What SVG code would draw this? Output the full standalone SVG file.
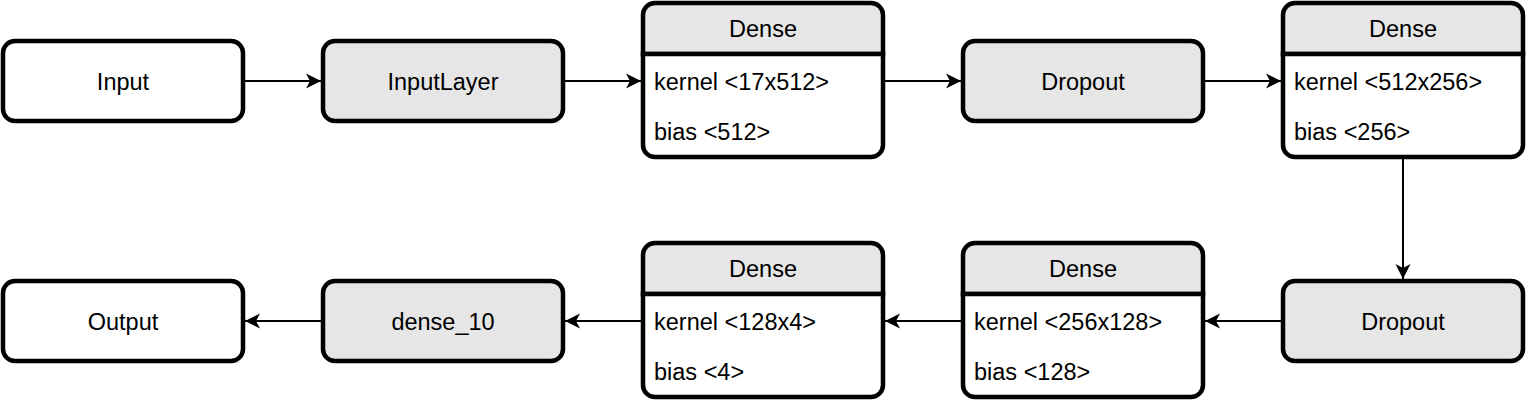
<svg xmlns="http://www.w3.org/2000/svg" width="1526" height="406" viewBox="0 0 1526 406">
<defs>
<style>
.box{stroke:#000;stroke-width:4.5;}
.w{fill:#fff;}
.g{fill:#e6e6e6;}
text{font-family:"Liberation Sans",Arial,Helvetica,sans-serif;font-size:23.5px;fill:#000;}
.c{text-anchor:middle;}
.conn{stroke:#000;stroke-width:2;fill:none;marker-end:url(#arr);}
</style>
<marker id="arr" markerUnits="userSpaceOnUse" markerWidth="18" markerHeight="18" viewBox="0 0 18 18" refX="16" refY="9" orient="auto">
<path d="M1,1.5 L16,9 L1,16.5 L5,9 Z" fill="#000"/>
</marker>
</defs>
<rect width="1526" height="406" fill="#fff"/>
<g id="connectors">
<line class="conn" x1="243" y1="81" x2="321" y2="81"/>
<line class="conn" x1="563" y1="81" x2="641" y2="81"/>
<line class="conn" x1="883" y1="81" x2="961" y2="81"/>
<line class="conn" x1="1203" y1="81" x2="1281" y2="81"/>
<line class="conn" x1="1403" y1="157" x2="1403" y2="279"/>
<line class="conn" x1="1283" y1="321" x2="1205" y2="321"/>
<line class="conn" x1="963" y1="321" x2="885" y2="321"/>
<line class="conn" x1="643" y1="321" x2="565" y2="321"/>
<line class="conn" x1="323" y1="321" x2="245" y2="321"/>
</g>
<g id="input">
<rect class="box w" x="3" y="41" width="240" height="80" rx="12"/>
<text class="c" x="123" y="89.5">Input</text>
</g>
<g id="inputlayer">
<rect class="box g" x="323" y="41" width="240" height="80" rx="12"/>
<text class="c" x="443" y="89.5">InputLayer</text>
</g>
<g id="dense1">
<path class="box g" d="M643,54 V15 A12,12 0 0 1 655,3 H871 A12,12 0 0 1 883,15 V54 Z"/>
<path class="box w" d="M643,54 H883 V145 A12,12 0 0 1 871,157 H655 A12,12 0 0 1 643,145 Z"/>
<text class="c" x="763" y="37">Dense</text>
<text x="654" y="90">kernel &lt;17x512&gt;</text>
<text x="654" y="140">bias &lt;512&gt;</text>
</g>
<g id="dropout1">
<rect class="box g" x="963" y="41" width="240" height="80" rx="12"/>
<text class="c" x="1083" y="89.5">Dropout</text>
</g>
<g id="dense2">
<path class="box g" d="M1283,54 V15 A12,12 0 0 1 1295,3 H1511 A12,12 0 0 1 1523,15 V54 Z"/>
<path class="box w" d="M1283,54 H1523 V145 A12,12 0 0 1 1511,157 H1295 A12,12 0 0 1 1283,145 Z"/>
<text class="c" x="1403" y="37">Dense</text>
<text x="1294" y="90">kernel &lt;512x256&gt;</text>
<text x="1294" y="140">bias &lt;256&gt;</text>
</g>
<g id="dropout2">
<rect class="box g" x="1283" y="281" width="240" height="80" rx="12"/>
<text class="c" x="1403" y="329.5">Dropout</text>
</g>
<g id="dense3">
<path class="box g" d="M963,294 V255 A12,12 0 0 1 975,243 H1191 A12,12 0 0 1 1203,255 V294 Z"/>
<path class="box w" d="M963,294 H1203 V385 A12,12 0 0 1 1191,397 H975 A12,12 0 0 1 963,385 Z"/>
<text class="c" x="1083" y="277">Dense</text>
<text x="974" y="330">kernel &lt;256x128&gt;</text>
<text x="974" y="380">bias &lt;128&gt;</text>
</g>
<g id="dense4">
<path class="box g" d="M643,294 V255 A12,12 0 0 1 655,243 H871 A12,12 0 0 1 883,255 V294 Z"/>
<path class="box w" d="M643,294 H883 V385 A12,12 0 0 1 871,397 H655 A12,12 0 0 1 643,385 Z"/>
<text class="c" x="763" y="277">Dense</text>
<text x="654" y="330">kernel &lt;128x4&gt;</text>
<text x="654" y="380">bias &lt;4&gt;</text>
</g>
<g id="dense10">
<rect class="box g" x="323" y="281" width="240" height="80" rx="12"/>
<text class="c" x="443" y="329.5">dense_10</text>
</g>
<g id="output">
<rect class="box w" x="3" y="281" width="240" height="80" rx="12"/>
<text class="c" x="123" y="329.5">Output</text>
</g>
</svg>
